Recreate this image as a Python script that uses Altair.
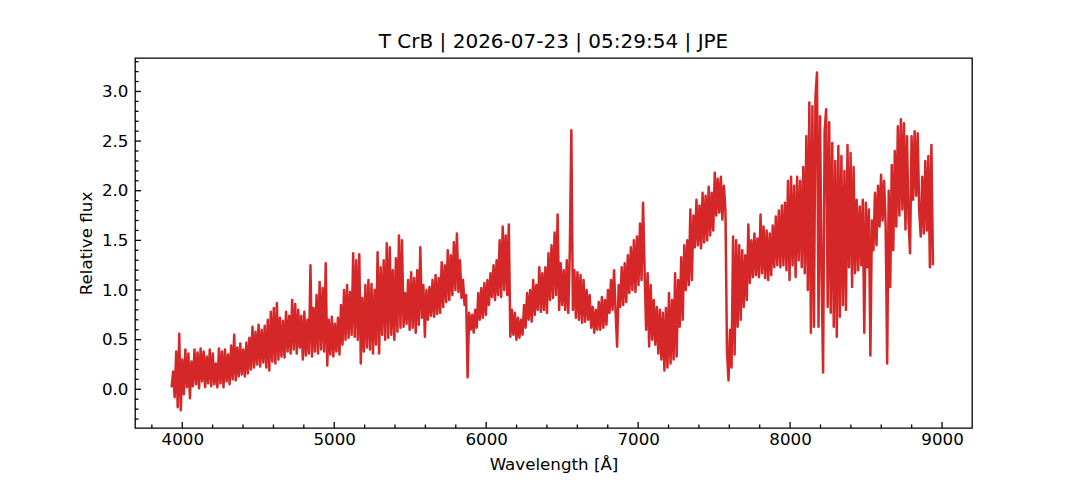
import altair as alt
import pandas as pd

TITLE = "T CrB | 2026-07-23 | 05:29:54 | JPE"
X_TITLE = "Wavelength [Å]"
Y_TITLE = "Relative flux"

# wavelength sampling grid (Å)
WL_START = 3930.0
WL_STEP = 10.04

# relative flux, in blocks of ~500 Å
seg_a = [0.02, 0.18, -0.08, 0.38, -0.18, 0.56, -0.21, 0.30, -0.05, 0.40,
         0.02, 0.36, -0.09, 0.28, 0.03, 0.40, 0.05, 0.37, 0.01, 0.41,
         0.08, 0.38, 0.02, 0.33, 0.06, 0.40, 0.03, 0.36, 0.05, 0.26,
         0.02, 0.41, 0.06, 0.38, 0.02, 0.40, 0.08, 0.35, 0.05, 0.44,
         0.10, 0.55, 0.09, 0.42, 0.13, 0.46, 0.15, 0.40, 0.13, 0.47]
seg_b = [0.16, 0.52, 0.20, 0.63, 0.22, 0.58, 0.25, 0.65, 0.23, 0.60,
         0.27, 0.64, 0.22, 0.70, 0.19, 0.78, 0.28, 0.82, 0.26, 0.87,
         0.30, 0.72, 0.33, 0.69, 0.32, 0.78, 0.38, 0.74, 0.36, 0.90,
         0.40, 0.86, 0.36, 0.80, 0.42, 0.74, 0.30, 0.78, 0.34, 0.70,
         0.36, 1.25, 0.33, 0.82, 0.38, 0.95, 0.36, 1.08, 0.40, 1.02]
seg_c = [0.38, 1.27, 0.24, 0.70, 0.35, 0.73, 0.33, 0.66, 0.38, 0.72,
         0.35, 0.85, 0.45, 1.00, 0.50, 1.05, 0.52, 0.98, 0.55, 1.37,
         0.53, 1.30, 0.50, 1.36, 0.26, 0.92, 0.38, 1.05, 0.42, 1.10,
         0.40, 1.06, 0.36, 1.00, 0.45, 1.38, 0.36, 1.23, 0.55, 1.30,
         0.50, 1.47, 0.52, 1.43, 0.55, 1.20, 0.50, 1.32, 0.58, 1.55]
seg_d = [0.62, 1.50, 0.63, 0.97, 0.66, 1.10, 0.60, 1.18, 0.62, 1.12,
         0.57, 1.20, 0.65, 1.43, 0.72, 1.05, 0.53, 1.00, 0.70, 1.03,
         0.74, 1.10, 0.73, 1.15, 0.76, 1.12, 0.77, 1.28, 0.83, 1.25,
         0.88, 1.40, 0.90, 1.35, 0.95, 1.48, 1.00, 1.57, 0.98, 1.30,
         0.92, 1.10, 0.85, 0.95, 0.12, 0.77, 0.60, 0.75, 0.57, 0.80]
seg_e = [0.62, 0.97, 0.70, 1.02, 0.72, 1.07, 0.75, 1.10, 0.85, 1.17,
         0.93, 1.25, 0.90, 1.30, 0.95, 1.50, 0.93, 1.64, 1.00, 1.55,
         0.95, 1.66, 0.53, 0.80, 0.55, 0.77, 0.50, 0.72, 0.52, 0.70,
         0.55, 0.85, 0.62, 0.97, 0.70, 1.00, 0.68, 1.10, 0.75, 1.05,
         0.80, 1.23, 0.78, 1.17, 0.80, 1.23, 0.77, 1.37, 0.90, 1.45]
seg_f = [0.92, 1.58, 0.95, 1.76, 0.80, 1.27, 0.85, 1.20, 0.80, 1.30,
         0.77, 1.40, 2.61, 0.80, 1.20, 0.72, 1.18, 0.70, 1.15, 0.67,
         1.10, 0.68, 1.00, 0.70, 0.95, 0.62, 0.83, 0.57, 0.80, 0.60,
         0.88, 0.60, 0.93, 0.62, 0.90, 0.65, 1.00, 0.77, 1.10, 0.80,
         1.20, 0.78, 0.43, 1.05, 0.83, 1.23, 0.85, 1.27, 0.88, 1.35]
seg_g = [0.97, 1.43, 1.00, 1.50, 0.98, 1.54, 1.05, 1.67, 1.10, 1.88,
         1.20, 0.60, 1.17, 0.43, 1.05, 0.50, 0.90, 0.45, 0.83, 0.36,
         0.80, 0.30, 0.77, 0.19, 0.82, 0.22, 0.97, 0.26, 0.90, 0.30,
         1.17, 0.33, 1.10, 0.63, 1.33, 0.70, 1.45, 1.00, 1.50, 1.05,
         1.81, 1.10, 1.75, 1.43, 1.91, 1.45, 1.85, 1.42, 1.98, 1.48]
seg_h = [1.95, 1.50, 2.04, 1.55, 1.98, 1.60, 2.18, 1.75, 2.12, 1.78,
         2.14, 1.71, 2.05, 1.80, 0.40, 0.09, 0.60, 0.22, 1.54, 0.35,
         1.50, 0.63, 1.45, 0.70, 1.40, 0.83, 1.35, 0.90, 1.66, 1.07,
         1.50, 1.13, 1.57, 1.15, 1.52, 1.13, 1.76, 1.17, 1.64, 1.12,
         1.60, 1.10, 1.57, 1.15, 1.65, 1.23, 1.74, 1.25, 1.80, 1.23]
seg_i = [1.85, 1.25, 1.88, 1.20, 2.10, 1.10, 2.14, 1.25, 2.05, 1.13,
         2.14, 1.30, 2.10, 1.23, 2.24, 1.17, 2.55, 1.00, 2.89, 0.57,
         2.85, 0.63, 2.94, 3.19, 0.63, 2.75, 1.17, 0.17, 2.60, 2.82,
         0.83, 2.69, 0.77, 2.48, 0.63, 2.30, 0.53, 2.45, 0.73, 2.35,
         0.85, 2.20, 0.80, 2.46, 1.23, 2.38, 1.03, 2.24, 1.17, 1.91]
seg_j = [1.20, 1.84, 1.25, 1.91, 0.57, 1.88, 1.23, 1.81, 0.34, 1.70,
         1.40, 1.98, 1.45, 2.05, 1.64, 2.16, 1.70, 2.10, 1.65, 0.26,
         2.00, 1.03, 2.26, 1.40, 2.40, 1.64, 2.65, 1.75, 2.72, 1.81,
         2.68, 1.61, 2.55, 1.70, 1.37, 2.55, 1.91, 2.60, 1.95, 2.58,
         1.80, 1.54, 2.14, 1.57, 2.30, 1.60, 2.35, 1.23, 2.46, 1.25]

# axis ticks
X_MAJOR = [4000, 5000, 6000, 7000, 8000, 9000]
X_MINOR = [3800, 4200, 4400, 4600, 4800, 5200, 5400, 5600, 5800, 6200, 6400,
           6600, 6800, 7200, 7400, 7600, 7800, 8200, 8400, 8600, 8800]
Y_MAJOR = [0.0, 0.5, 1.0, 1.5, 2.0, 2.5, 3.0]
Y_MINOR = [-0.3, -0.2, -0.1, 0.1, 0.2, 0.3, 0.4, 0.6, 0.7, 0.8, 0.9,
           1.1, 1.2, 1.3, 1.4, 1.6, 1.7, 1.8, 1.9, 2.1, 2.2, 2.3, 2.4,
           2.6, 2.7, 2.8, 2.9, 3.1, 3.2, 3.3]
X_DOMAIN = [3689, 9197]
Y_DOMAIN = [-0.39, 3.337]

flux = seg_a + seg_b + seg_c + seg_d + seg_e + seg_f + seg_g + seg_h + seg_i + seg_j
wl = [round(WL_START + WL_STEP * i, 2) for i in range(len(flux))]
df = pd.DataFrame({"wl": wl, "flux": flux})

W, H = 837, 370
FONT = "DejaVu Sans"
xs = alt.Scale(domain=X_DOMAIN, nice=False, zero=False)
ys = alt.Scale(domain=Y_DOMAIN, nice=False, zero=False)

line = alt.Chart(df).mark_line(
    color="#d62728", strokeWidth=2.5, strokeJoin="round"
).encode(
    x=alt.X("wl:Q", scale=xs, axis=alt.Axis(
        values=X_MAJOR, format="d", title=X_TITLE, labelPadding=3, titlePadding=9)),
    y=alt.Y("flux:Q", scale=ys, axis=alt.Axis(
        values=Y_MAJOR, format=".1f", title=Y_TITLE, labelPadding=7, titlePadding=6)),
)

def xticks(vals, size):
    return alt.Chart(pd.DataFrame({"v": vals})).mark_tick(
        orient="vertical", size=size, thickness=1.3, color="black", opacity=1
    ).encode(x=alt.X("v:Q", scale=xs), y=alt.value(H - size / 2))

def yticks(vals, size):
    return alt.Chart(pd.DataFrame({"v": vals})).mark_tick(
        orient="horizontal", size=size, thickness=1.3, color="black", opacity=1
    ).encode(y=alt.Y("v:Q", scale=ys), x=alt.value(size / 2))

chart = alt.layer(
    line, xticks(X_MAJOR, 6), xticks(X_MINOR, 3.5), yticks(Y_MAJOR, 6), yticks(Y_MINOR, 3.5)
).properties(
    width=W, height=H,
    title=alt.TitleParams(TITLE, fontSize=20, font=FONT, fontWeight="normal",
                          color="black", anchor="middle", offset=6),
    autosize=alt.AutoSizeParams(type="none"),
    padding={"left": 127, "top": 50, "right": 100, "bottom": 52},
    background="white",
).configure_view(
    stroke="black", strokeWidth=1.3
).configure_axis(
    ticks=False, tickSize=0, domain=False, grid=False,
    labelFontSize=16.7, titleFontSize=16.7, labelFont=FONT, titleFont=FONT,
    labelColor="black", titleColor="black", titleFontWeight="normal",
)

chart.save("out.html", embed_options={"renderer": "svg", "actions": False})
